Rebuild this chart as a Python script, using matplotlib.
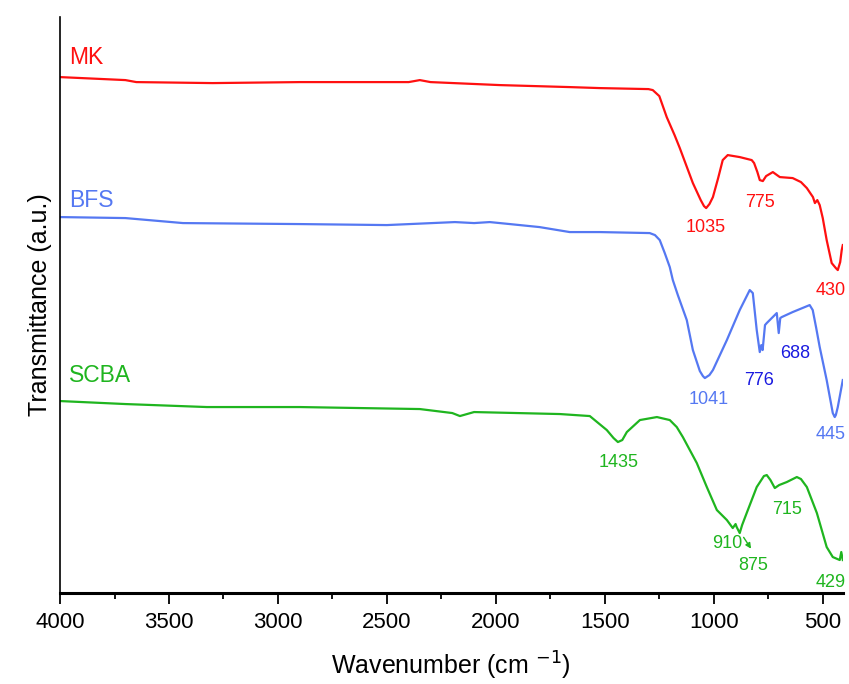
import numpy as np
import matplotlib.pyplot as plt
from matplotlib.ticker import MultipleLocator

plt.rcParams['font.family'] = ['Liberation Sans', 'DejaVu Sans']

# spectra (wavenumber, transmittance in a.u.)
mk_wn = [4000, 3800, 3700, 3650, 3300, 2899, 2400, 2349, 2300, 1982, 1661, 1523, 1300, 1280,
         1250, 1216, 1180, 1156, 1096, 1060, 1045, 1035, 1020, 1004, 980, 959, 936, 881, 826,
         815, 800, 789, 775, 760, 729, 710, 697, 638, 600, 573, 545, 536, 525, 514, 500, 482,
         459, 440, 431, 420, 413, 408]
mk_t = [5.16, 5.14, 5.13, 5.11, 5.10, 5.11, 5.11, 5.13, 5.11, 5.08, 5.06, 5.05, 5.04, 5.03,
        4.97, 4.76, 4.58, 4.45, 4.10, 3.93, 3.87, 3.85, 3.89, 3.96, 4.15, 4.33, 4.38, 4.36, 4.33,
        4.30, 4.21, 4.13, 4.12, 4.17, 4.21, 4.18, 4.16, 4.15, 4.11, 4.05, 3.96, 3.90, 3.93, 3.88,
        3.75, 3.53, 3.30, 3.25, 3.23, 3.31, 3.43, 3.48]

bfs_wn = [4000, 3700, 3436, 2899, 2500, 2188, 2100, 2028, 1936, 1800, 1661, 1523, 1294, 1270,
          1248, 1225, 1202, 1188, 1165, 1124, 1096, 1064, 1050, 1041, 1020, 1004, 940, 881, 835,
          821, 803, 789, 782, 776, 765, 757, 711, 702, 695, 688, 638, 560, 546, 530, 514, 482,
          454, 445, 440, 431, 408]
bfs_t = [3.76, 3.75, 3.70, 3.69, 3.68, 3.71, 3.70, 3.71, 3.69, 3.66, 3.61, 3.61, 3.60, 3.58,
         3.53, 3.40, 3.26, 3.13, 2.98, 2.73, 2.43, 2.22, 2.17, 2.15, 2.18, 2.23, 2.53, 2.83, 3.03,
         3.00, 2.63, 2.41, 2.48, 2.43, 2.68, 2.70, 2.80, 2.60, 2.75, 2.76, 2.81, 2.88, 2.83, 2.65,
         2.46, 2.13, 1.80, 1.76, 1.78, 1.86, 2.13]

scba_wn = [4000, 3700, 3326, 2899, 2349, 2200, 2165, 2100, 1706, 1569, 1530, 1491, 1460, 1440,
           1420, 1399, 1339, 1261, 1202, 1170, 1142, 1078, 1032, 986, 940, 913, 900, 895, 881,
           870, 849, 803, 770, 757, 740, 720, 700, 665, 619, 600, 573, 527, 482, 454, 422, 415, 408]
scba_t = [1.92, 1.89, 1.86, 1.86, 1.84, 1.80, 1.77, 1.81, 1.79, 1.77, 1.70, 1.63, 1.55, 1.51,
          1.53, 1.61, 1.73, 1.76, 1.73, 1.66, 1.56, 1.30, 1.06, 0.83, 0.73, 0.65, 0.69, 0.66, 0.60,
          0.68, 0.80, 1.06, 1.17, 1.18, 1.13, 1.05, 1.08, 1.11, 1.16, 1.14, 1.06, 0.80, 0.46, 0.36,
          0.33, 0.41, 0.33]

# sample names and peak labels: (text, wavenumber, y)
names = ["MK", "BFS", "SCBA"]
name_y = [5.36, 3.93, 2.18]
mk_peaks = [("1035", 1035, 3.66), ("775", 790, 3.91)]
bfs_peaks = [("1041", 1025, 1.94), ("776", 790, 2.13), ("688", 625, 2.40)]
scba_peaks = [("1435", 1435, 1.31), ("910", 940, 0.50), ("875", 820, 0.28), ("715", 665, 0.84)]
# labels at the right edge, right aligned so they stay inside the figure
edge_peaks = [("430", 3.03), ("445", 1.59), ("429", 0.11)]

red = "#ff1010"
blue = "#5578f2"
dark_blue = "#1a1ae0"
green = "#1fb51f"

fig = plt.figure(figsize=(8.49, 6.84), dpi=100)
ax = fig.add_axes([0.0707, 0.133, 0.922, 0.842])

ax.plot(mk_wn, mk_t, color=red, lw=1.6)
ax.plot(bfs_wn, bfs_t, color=blue, lw=1.6)
ax.plot(scba_wn, scba_t, color=green, lw=1.6)

for name, y, c in zip(names, name_y, [red, blue, green]):
    ax.text(3960, y, name, color=c, fontsize=16.5, ha="left", va="center")

for txt, x, y in mk_peaks:
    ax.text(x, y, txt, color=red, fontsize=13, ha="center", va="center")
for txt, x, y in bfs_peaks:
    c = dark_blue if txt in ("776", "688") else blue
    ax.text(x, y, txt, color=c, fontsize=13, ha="center", va="center")
for txt, x, y in scba_peaks:
    ax.text(x, y, txt, color=green, fontsize=13, ha="center", va="center")
for (txt, y), c in zip(edge_peaks, [red, blue, green]):
    ax.text(395, y, txt, color=c, fontsize=13, ha="right", va="center", clip_on=False)
ax.annotate("", xy=(822, 0.42), xytext=(870, 0.58),
            arrowprops=dict(arrowstyle="-|>", color=green, lw=1, mutation_scale=8))

ax.set_xlim(4000, 408)
ax.set_ylim(0, 5.76)
ax.xaxis.set_major_locator(MultipleLocator(500))
ax.xaxis.set_minor_locator(MultipleLocator(250))
ax.tick_params(axis="x", which="major", direction="out", length=8, width=1.3, labelsize=16, pad=6)
ax.tick_params(axis="x", which="minor", direction="out", length=4.5, width=1.3)
ax.set_yticks([])
ax.spines["top"].set_visible(False)
ax.spines["right"].set_visible(False)
ax.spines["bottom"].set_linewidth(2.2)
ax.spines["left"].set_linewidth(1.2)

ax.set_xlabel("Wavenumber (cm $^{-1}$)", fontsize=18, labelpad=12)
ax.set_ylabel("Transmittance (a.u.)", fontsize=18, labelpad=6)

fig.savefig("out.png", dpi=100)
